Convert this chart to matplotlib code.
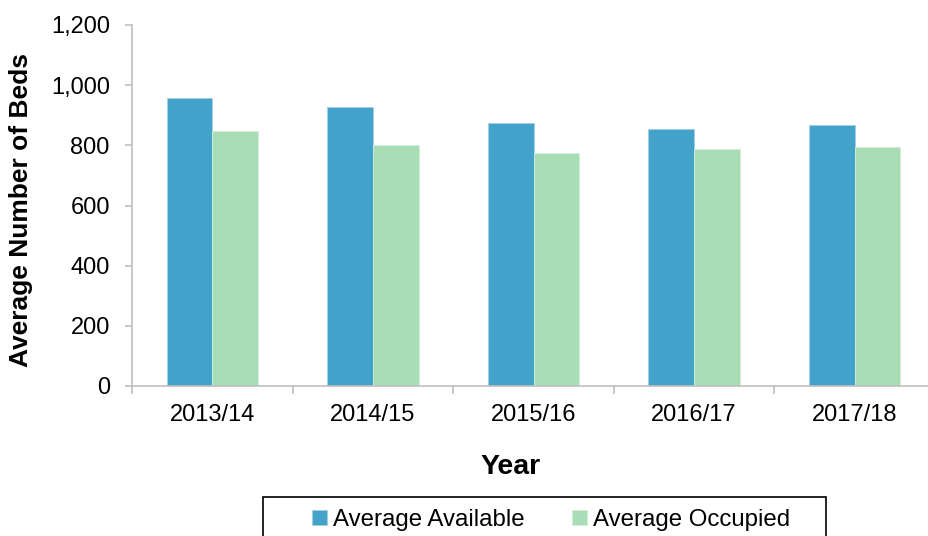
import numpy as np
import matplotlib
matplotlib.use("Agg")
import matplotlib.pyplot as plt
from matplotlib.patches import Rectangle
from matplotlib.ticker import FuncFormatter

plt.rcParams['font.family'] = ['Liberation Sans', 'DejaVu Sans']

# data
years = ["2013/14", "2014/15", "2015/16", "2016/17", "2017/18"]
avg_available = [959, 926, 873, 853, 866]
avg_occupied = [847, 801, 774, 787, 794]

col_avail = "#43A2CA"
col_occ = "#A8DDB5"
axis_grey = "#BFBFBF"

fig = plt.figure(figsize=(9.29, 5.36), dpi=100)
ax = fig.add_axes([132 / 929, 150 / 536, 803 / 929, 361 / 536])

x = np.arange(len(years))
w = 0.285
ax.bar(x - w / 2, avg_available, w, color=col_avail, edgecolor="#9fd0e6", linewidth=0.6,
       label="Average Available")
ax.bar(x + w / 2, avg_occupied, w, color=col_occ, edgecolor="#d4eedb", linewidth=0.6,
       label="Average Occupied")

ax.set_xlim(-0.5, len(years) - 0.5)
ax.set_ylim(0, 1200)
ax.set_yticks(range(0, 1201, 200))
ax.yaxis.set_major_formatter(FuncFormatter(lambda v, p: f"{int(v):,}"))

# category labels centred, tick marks on the category boundaries
ax.set_xticks(x)
ax.set_xticklabels(years)
ax.set_xticks(np.arange(-0.5, len(years)), minor=True)
ax.tick_params(axis="x", which="major", length=0, pad=13, labelsize=17)
ax.tick_params(axis="x", which="minor", length=6, color=axis_grey, width=1.2)
ax.tick_params(axis="y", length=5, color=axis_grey, width=1.2, pad=11, labelsize=17)

for s in ["top", "right"]:
    ax.spines[s].set_visible(False)
for s in ["left", "bottom"]:
    ax.spines[s].set_color(axis_grey)
    ax.spines[s].set_linewidth(1.2)

ax.set_ylabel("Average Number of Beds", fontsize=19, fontweight="bold")
ax.yaxis.set_label_coords(-0.123, 0.4875)
ax.set_xlabel("Year", fontsize=20.5, fontweight="bold", labelpad=20)
ax.xaxis.label.set_x(0.472)

# legend box runs off the bottom of the picture in the original
fig.patches.append(Rectangle((263 / 929, -0.05), (826 - 263) / 929, 0.05 + 39 / 536,
                             transform=fig.transFigure, fill=False, edgecolor="black",
                             linewidth=1.2, clip_on=False))
fig.legend(loc="center", bbox_to_anchor=(551 / 929, 16 / 536), ncol=2, frameon=False,
           fontsize=17.3, handlelength=0.6, handleheight=0.6, handletextpad=0.25,
           columnspacing=2.0)

fig.savefig("out.png", dpi=100)
